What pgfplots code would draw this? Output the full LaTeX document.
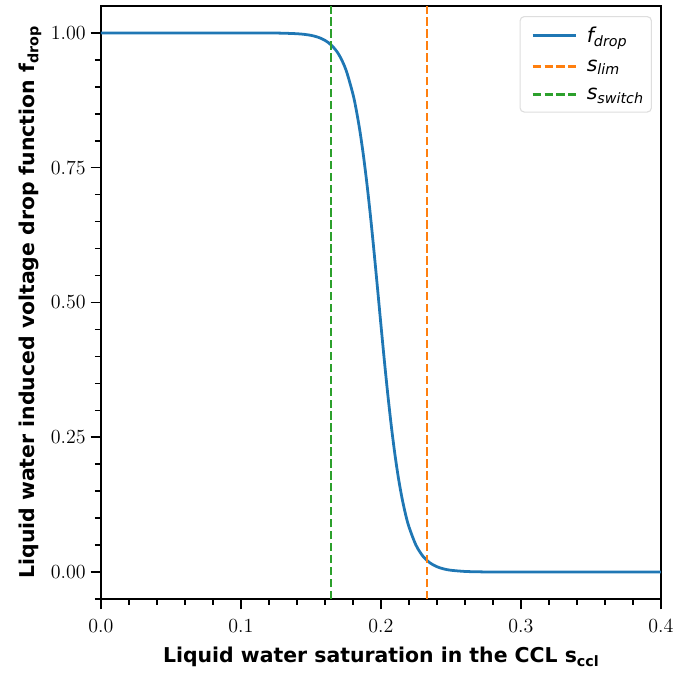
\documentclass[border=0pt]{standalone}
\usepackage{fontspec}
\usepackage{pgfplots}
\pgfplotsset{compat=1.18}
\newfontfamily\dejavu{DejaVu Sans}
\definecolor{tabblue}{HTML}{1F77B4}
\definecolor{taborange}{HTML}{FF7F0E}
\definecolor{tabgreen}{HTML}{2CA02C}
\newcommand{\sub}[1]{\raisebox{-0.35ex}{\fontsize{10.3}{12}\selectfont #1}}
\begin{document}
\begin{tikzpicture}
\begin{axis}[
  scale only axis,
  width=403.2pt, height=427pt,
  xmin=0, xmax=0.4, ymin=-0.05, ymax=1.05,
  xtick={0,0.1,0.2,0.3,0.4},
  ytick={0,0.25,0.5,0.75,1},
  minor xtick={0.02,0.04,0.06,0.08,0.12,0.14,0.16,0.18,0.22,0.24,0.26,0.28,0.32,0.34,0.36,0.38},
  minor ytick={-0.05,0.05,0.1,0.15,0.2,0.3,0.35,0.4,0.45,0.55,0.6,0.65,0.7,0.8,0.85,0.9,0.95},
  tick align=outside,
  tick pos=left,
  major tick length=7.5pt,
  minor tick length=4.3pt,
  every tick/.style={black, line width=1.1pt},
  axis line style={line width=1.6pt},
  xticklabel style={yshift=-3.5pt, /pgf/number format/.cd, fixed, fixed zerofill, precision=1},
  yticklabel style={/pgf/number format/.cd, fixed, fixed zerofill, precision=2},
  scaled ticks=false,
  tick label style={font=\fontsize{14.7}{17}\selectfont},
  xlabel={\dejavu\bfseries Liquid water saturation in the CCL s\sub{ccl}},
  ylabel={\dejavu\bfseries Liquid water induced voltage drop function f\sub{drop}},
  label style={font=\fontsize{14.7}{17}\selectfont},
  xlabel style={yshift=-4pt},
  legend style={at={(0.984,0.983)}, anchor=north east, draw=black!13, line width=0.8pt, rounded corners=3pt,
    fill=white, fill opacity=0.8, text opacity=1,
    font=\dejavu\fontsize{14.7}{17}\selectfont, row sep=6.8pt, inner xsep=4pt, inner ysep=5.5pt},
  legend cell align=left,
  legend image code/.code={\draw[#1] (0pt,0pt) -- (31pt,0pt); \path (-4pt,0pt) (36pt,0pt);},
]
\addplot[tabblue, line width=2pt, smooth] coordinates {
(0.0,1.0000) (0.05,1.0000) (0.10,1.0000) (0.12,0.99984) (0.13,0.9995) (0.14,0.9985) (0.145,0.9974)
(0.15,0.9955) (0.155,0.9921) (0.16,0.9863) (0.165,0.9764) (0.17,0.9596) (0.175,0.9316)
(0.18,0.8865) (0.1825,0.8554) (0.185,0.8176) (0.1875,0.7724) (0.19,0.7199) (0.1925,0.6608)
(0.195,0.5960) (0.1975,0.5278) (0.2,0.4584) (0.2025,0.3906) (0.205,0.3269) (0.2075,0.2689)
(0.21,0.2179) (0.2125,0.1742) (0.215,0.1379) (0.2175,0.1080) (0.22,0.0840) (0.225,0.0500)
(0.23,0.0293) (0.235,0.0170) (0.24,0.00984) (0.245,0.00567) (0.25,0.00326) (0.26,0.00108)
(0.27,0.00035) (0.28,0.0001) (0.30,0.0) (0.35,0.0) (0.40,0.0)
};
\addlegendentry{\itshape f\sub{drop}}
\addplot[taborange, line width=2pt, dash pattern=on 6pt off 2.6pt] coordinates {(0.2329,-0.05) (0.2329,1.05)};
\addlegendentry{\itshape s\sub{lim}}
\addplot[tabgreen, line width=2pt, dash pattern=on 6pt off 2.6pt] coordinates {(0.1643,-0.05) (0.1643,1.05)};
\addlegendentry{\itshape s\sub{switch}}
\end{axis}
\pgfresetboundingbox
\path ([shift={(-72.7pt,-53.3pt)}]current axis.south west) rectangle ([shift={(8.6pt,4.3pt)}]current axis.north east);
\end{tikzpicture}
\end{document}
